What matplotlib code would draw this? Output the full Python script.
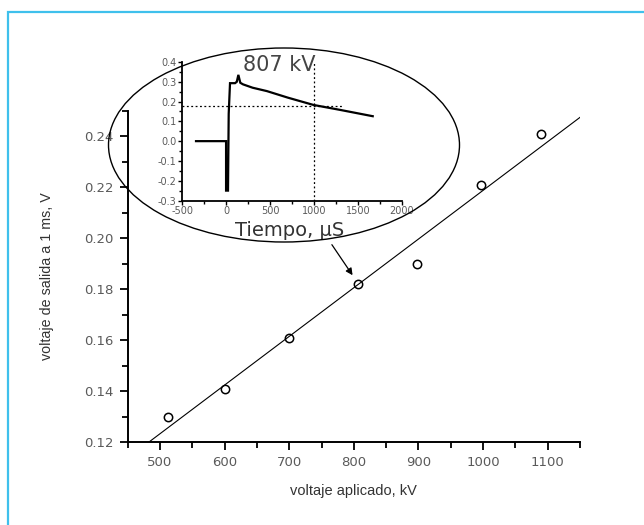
import matplotlib
matplotlib.use("Agg")
import matplotlib.pyplot as plt
from matplotlib.patches import Ellipse, Rectangle

plt.rcParams['font.family'] = ['Liberation Sans', 'DejaVu Sans']
plt.rcParams['axes.unicode_minus'] = False

# main data
voltage_kv = [513, 600, 700, 807, 897, 997, 1090]
output_v = [0.130, 0.141, 0.161, 0.182, 0.190, 0.221, 0.241]
fit_x = [483, 1150]
fit_y = [0.120, 0.2475]
x_ticks = [500, 600, 700, 800, 900, 1000, 1100]
y_ticks = [0.12, 0.14, 0.16, 0.18, 0.20, 0.22, 0.24]

# inset waveform (807 kV)
t_us = [-344, -2, -2, 20, 28, 43, 100, 120, 138, 160, 191, 300, 462, 700, 992, 1295, 1667]
v_wave = [0.0, 0.0, -0.25, -0.25, 0.138, 0.293, 0.293, 0.30, 0.335, 0.295, 0.287, 0.27, 0.253, 0.22, 0.183, 0.158, 0.126]
inset_xticks = [-500, 0, 500, 1000, 1500, 2000]
inset_yticks = [-0.3, -0.2, -0.1, 0.0, 0.1, 0.2, 0.3, 0.4]
marker_t = 1000
marker_v = 0.18

W, H = 644, 525
fig = plt.figure(figsize=(W / 100, H / 100), dpi=100)

# light-blue frame
fig.patches.append(Rectangle((8 / W, -0.1), 1.2, 1 - 12 / H + 0.1, transform=fig.transFigure,
                             fill=False, edgecolor='#3fc0ec', linewidth=1.6, zorder=0))

def fx(px):
    return px / W

def fy(py):
    return 1 - py / H

tick_font = dict(family='DejaVu Sans')

ax = fig.add_axes([fx(127.7), fy(442), fx(580) - fx(127.7), fy(111) - fy(442)])
ax.plot(fit_x, fit_y, color='black', lw=0.8)
ax.plot(voltage_kv, output_v, 'o', mfc='none', mec='black', mew=1.1, ms=6)
ax.set_xlim(450, 1150)
ax.set_ylim(0.12, 0.25)
ax.set_xticks(x_ticks)
ax.set_xticklabels([str(v) for v in x_ticks], **tick_font)
ax.set_xticks([450, 550, 650, 750, 850, 950, 1050, 1150], minor=True)
ax.set_yticks(y_ticks)
ax.set_yticks([0.13, 0.15, 0.17, 0.19, 0.21, 0.23, 0.25], minor=True)
ax.set_yticklabels([f"{v:.2f}" for v in y_ticks], **tick_font)
for s in ['top', 'right']:
    ax.spines[s].set_visible(False)
for s in ['left', 'bottom']:
    ax.spines[s].set_linewidth(1.4)
ax.tick_params(which='major', length=6, width=1.3, direction='out', labelsize=9.5,
               labelcolor='#5a5a5a', pad=4)
ax.tick_params(which='minor', length=4, width=1.3, direction='out')
ax.set_xlabel('voltaje aplicado, kV', fontsize=10.5, color='#333333', labelpad=11)
ax.set_ylabel('voltaje de salida a 1 ms, V', fontsize=10.3, color='#333333', labelpad=22)

ax.annotate('', xy=(798, 0.1855), xytext=(766, 0.1975),
            arrowprops=dict(arrowstyle='-|>', color='black', lw=0.9,
                            mutation_scale=10, shrinkA=0, shrinkB=0))

# ellipse
fig.patches.append(Ellipse((fx(284), fy(145)), 351 / W, 194 / H, transform=fig.transFigure,
                           fill=False, edgecolor='black', linewidth=1.0, zorder=5))

# inset
axi = fig.add_axes([fx(182.3), fy(200.5), fx(402) - fx(182.3), fy(62) - fy(200.5)])
axi.patch.set_alpha(0)
axi.plot(t_us, v_wave, color='black', lw=1.6, solid_joinstyle='miter')
axi.plot([-500, 1320], [marker_v, marker_v], color='black', lw=0.9, ls=(0, (1.5, 2)))
axi.plot([marker_t, marker_t], [-0.3, 0.4], color='black', lw=0.9, ls=(0, (1.5, 2)))
axi.set_xlim(-500, 2000)
axi.set_ylim(-0.3, 0.4)
axi.set_xticks(inset_xticks)
axi.set_xticklabels([str(v) for v in inset_xticks], **tick_font)
axi.set_xticks([-250, 250, 750, 1250, 1750], minor=True)
axi.set_yticks(inset_yticks)
axi.set_yticks([-0.25, -0.15, -0.05, 0.05, 0.15, 0.25, 0.35], minor=True)
axi.set_yticklabels([f"{v:.1f}" for v in inset_yticks], **tick_font)
for s in ['top', 'right']:
    axi.spines[s].set_visible(False)
for s in ['left', 'bottom']:
    axi.spines[s].set_linewidth(1.3)
axi.tick_params(which='major', length=3, width=1.0, direction='out', labelsize=7,
                labelcolor='#5a5a5a', pad=1)
axi.tick_params(which='minor', length=2, width=1.0, direction='out')
axi.text(0.44, 0.975, '807 kV', transform=axi.transAxes, fontsize=15, color='#444444',
         ha='center', va='center', family='DejaVu Sans')
fig.text(fx(290), fy(231), 'Tiempo, µS', fontsize=14, color='#333333', ha='center', va='center',
         family='DejaVu Sans')

fig.savefig('out.png', dpi=100)
